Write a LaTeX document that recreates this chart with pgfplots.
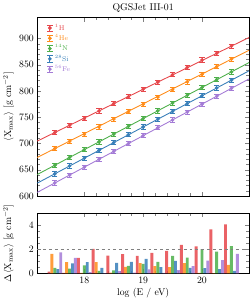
\documentclass[border=0pt]{standalone}
\usepackage{pgfplots}
\pgfplotsset{compat=1.18}
\definecolor{cH}{HTML}{E6474B}
\definecolor{cHe}{HTML}{FF8C1A}
\definecolor{cN}{HTML}{4DAF4A}
\definecolor{cSi}{HTML}{377EB8}
\definecolor{cFe}{HTML}{A47BD6}
\pgfplotsset{
  myerr/.style={only marks, mark=*, mark size=1.7pt,
    error bars/y dir=both, error bars/y explicit,
    error bars/error bar style={line width=0.8pt},
    error bars/error mark options={line width=0.8pt, mark size=2.6pt, rotate=90}},
  fitline/.style={line width=0.9pt, forget plot, no marks},
  mybar/.style={ybar, bar width=0.05, fill=#1, draw=none, fill opacity=0.85},
}
\begin{document}
\begin{tikzpicture}
\begin{axis}[
  name=upper, at={(0,0)}, anchor=south west,
  scale only axis, width=217pt, height=183pt,
  xmin=17.2, xmax=20.8, ymin=600, ymax=940,
  xtick={18,19,20}, xticklabels={},
  ytick={600,650,...,900},
  minor x tick num=4, minor y tick num=4,
  tick pos=both, tick align=inside,
  title={QGSJet III-01},
  title style={yshift=-4pt},
  ylabel={$\langle \mathrm{X}_{\mathrm{max}}\rangle$ [g cm$^{-2}$]},
  ylabel style={at={(axis description cs:-0.095,0.5)}, anchor=south},
  legend style={draw=none, fill=none, at={(0.03,0.985)}, anchor=north west,
    font=\scriptsize, row sep=-1.2pt, cells={anchor=west}},
  legend image code/.code={
    \draw[#1,solid,line width=0.8pt] (0.22cm,-0.11cm) -- (0.22cm,0.11cm);
    \draw[#1,solid,line width=0.8pt] (0.12cm,-0.11cm) -- (0.32cm,-0.11cm);
    \draw[#1,solid,line width=0.8pt] (0.12cm,0.11cm) -- (0.32cm,0.11cm);
    \fill[#1] (0.22cm,0) circle (1.7pt);
  },
]
\addplot[fitline, cH] coordinates {(17.2,704.6) (20.8,901.8)};
\addplot[fitline, cHe] coordinates {(17.2,673.5) (20.8,877.6)};
\addplot[fitline, cN] coordinates {(17.2,641.0) (20.8,854.1)};
\addplot[fitline, cSi] coordinates {(17.2,624.6) (20.8,838.4)};
\addplot[fitline, cFe] coordinates {(17.2,607.0) (20.8,823.0)};

\addplot[cH, myerr] coordinates {
 (17.5,721.0) +- (0,4) (17.75,734.6) +- (0,4) (18.0,747.5) +- (0,4)
 (18.25,762.0) +- (0,4) (18.5,776.0) +- (0,4) (18.75,789.0) +- (0,4)
 (19.0,803.5) +- (0,4) (19.25,817.0) +- (0,4) (19.5,831.0) +- (0,4)
 (19.75,845.0) +- (0,4) (20.0,859.0) +- (0,4) (20.25,871.8) +- (0,4)
 (20.5,885.4) +- (0,4)};
\addlegendentry[text=cH]{$^{1}$H}
\addplot[cHe, myerr] coordinates {
 (17.5,690.5) +- (0,4) (17.75,704.0) +- (0,4) (18.0,717.5) +- (0,4)
 (18.25,731.5) +- (0,4) (18.5,746.5) +- (0,4) (18.75,760.5) +- (0,4)
 (19.0,774.5) +- (0,4) (19.25,788.5) +- (0,4) (19.5,802.5) +- (0,4)
 (19.75,817.5) +- (0,4) (20.0,831.5) +- (0,4) (20.25,846.2) +- (0,4)
 (20.5,860.6) +- (0,4)};
\addlegendentry[text=cHe]{$^{4}$He}
\addplot[cN, myerr] coordinates {
 (17.5,658.7) +- (0,4) (17.75,673.5) +- (0,4) (18.0,688.3) +- (0,4)
 (18.25,703.1) +- (0,4) (18.5,717.9) +- (0,4) (18.75,732.7) +- (0,4)
 (19.0,747.5) +- (0,4) (19.25,762.3) +- (0,4) (19.5,777.1) +- (0,4)
 (19.75,791.9) +- (0,4) (20.0,806.7) +- (0,4) (20.25,821.5) +- (0,4)
 (20.5,836.3) +- (0,4)};
\addlegendentry[text=cN]{$^{14}$N}
\addplot[cSi, myerr] coordinates {
 (17.5,642.4) +- (0,4) (17.75,657.3) +- (0,4) (18.0,672.1) +- (0,4)
 (18.25,687.0) +- (0,4) (18.5,701.8) +- (0,4) (18.75,716.7) +- (0,4)
 (19.0,731.5) +- (0,4) (19.25,746.4) +- (0,4) (19.5,761.2) +- (0,4)
 (19.75,776.1) +- (0,4) (20.0,790.9) +- (0,4) (20.25,805.8) +- (0,4)
 (20.5,820.6) +- (0,4)};
\addlegendentry[text=cSi]{$^{28}$Si}
\addplot[cFe, myerr] coordinates {
 (17.5,625.0) +- (0,4) (17.75,640.0) +- (0,4) (18.0,655.0) +- (0,4)
 (18.25,670.0) +- (0,4) (18.5,685.0) +- (0,4) (18.75,700.0) +- (0,4)
 (19.0,715.0) +- (0,4) (19.25,730.0) +- (0,4) (19.5,745.0) +- (0,4)
 (19.75,760.0) +- (0,4) (20.0,775.0) +- (0,4) (20.25,790.0) +- (0,4)
 (20.5,805.0) +- (0,4)};
\addlegendentry[text=cFe]{$^{56}$Fe}
\end{axis}

\begin{axis}[
  name=lower, at={(0,-17.3pt)}, anchor=north west,
  scale only axis, width=217pt, height=62pt,
  xmin=17.2, xmax=20.8, ymin=0, ymax=5,
  xtick={18,19,20}, ytick={0,2,4},
  minor x tick num=4, minor y tick num=3,
  tick pos=both, tick align=inside,
  xlabel={log (E / eV)},
  xlabel style={yshift=2pt},
  ylabel={$\Delta\langle \mathrm{X}_{\mathrm{max}}\rangle$ [g cm$^{-2}$]},
  ylabel style={at={(axis description cs:-0.095,0.5)}, anchor=south},
]
\addplot[mybar=cH, bar shift=-0.1] coordinates {
 (17.5,0.15) (17.75,0.05) (18.0,1.28) (18.25,2.03) (18.5,1.47) (18.75,1.60)
 (19.0,1.46) (19.25,1.70) (19.5,1.87) (19.75,2.36) (20.0,2.23) (20.25,3.64) (20.5,4.05)};
\addplot[mybar=cHe, bar shift=-0.05] coordinates {
 (17.5,1.62) (17.75,0.93) (18.0,0.05) (18.25,0.94) (18.5,0.08) (18.75,0.55)
 (19.0,0.86) (19.25,0.60) (19.5,0.53) (19.75,0.85) (20.0,0.05) (20.25,0.03) (20.5,0.72)};
\addplot[mybar=cN, bar shift=0] coordinates {
 (17.5,0.46) (17.75,0.40) (18.0,0.67) (18.25,0.22) (18.5,0.26) (18.75,0.62)
 (19.0,0.80) (19.25,0.95) (19.5,1.45) (19.75,1.31) (20.0,2.02) (20.25,1.81) (20.5,2.27)};
\addplot[mybar=cSi, bar shift=0.05] coordinates {
 (17.5,0.36) (17.75,0.83) (18.0,0.94) (18.25,0.46) (18.5,0.88) (18.75,0.96)
 (19.0,1.20) (19.25,0.52) (19.5,1.04) (19.75,0.47) (20.0,0.45) (20.25,0.36) (20.5,0.22)};
\addplot[mybar=cFe, bar shift=0.1] coordinates {
 (17.5,1.75) (17.75,1.30) (18.0,0.12) (18.25,0.03) (18.5,0.20) (18.75,0.08)
 (19.0,0.35) (19.25,0.05) (19.5,0.28) (19.75,0.60) (20.0,1.06) (20.25,1.10) (20.5,1.63)};
\addplot[gray, dashed, line width=0.7pt, no marks, forget plot] coordinates {(17.2,2) (20.8,2)};
\end{axis}
\end{tikzpicture}
\end{document}
